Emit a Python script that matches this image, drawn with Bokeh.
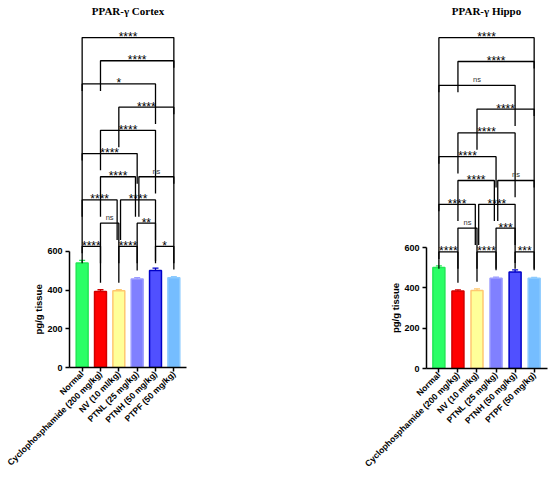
import math
import numpy as np
from bokeh.plotting import figure
from bokeh.layouts import row
from bokeh.models import FixedTicker, Range1d, Title
from bokeh.core.properties import value
from bokeh.embed import file_html
from bokeh.resources import INLINE

# ---------------- data ----------------
categories = ["Normal", "Cyclophosphamide (200 mg/kg)", "NV (10 ml/kg)",
              "PTNL (25 mg/kg)", "PTNH (50 mg/kg)", "PTPF (50 mg/kg)"]
cortex_values = [540, 393, 397, 457, 502, 464]
cortex_errors = [14, 9, 5, 8, 12, 6]
hippo_values = [501, 385, 387, 448, 479, 448]
hippo_errors = [8, 5, 8, 5, 10, 4]

pair_a = [0, 2, 4, 1, 3, 0, 2, 1, 3, 0, 1, 2, 0, 1, 0]
pair_b = [1, 3, 5, 2, 4, 2, 4, 3, 5, 3, 4, 5, 4, 5, 5]
bracket_rows = [1, 1, 1, 2, 2, 3, 3, 4, 4, 5, 6, 7, 8, 9, 10]
cortex_sig = ["****", "****", "*", "ns", "**", "****", "****", "****", "ns",
              "****", "****", "****", "*", "****", "****"]
hippo_sig = ["****", "****", "***", "ns", "***", "****", "****", "****", "ns",
             "****", "****", "****", "ns", "****", "****"]
y_ticks = [0, 200, 400, 600]
y_label = "pg/g tissue"

fill_colors = ["#2BFF66", "#FF0000", "#FFFF99", "#8080FF", "#5050FF", "#75BDFF"]
line_colors = ["#22E855", "#D00000", "#FFC870", "#9A9AFF", "#0000C8", "#8CCBFF"]

LABEL_HALF = {"*": 2.5, "**": 5, "***": 7.5, "****": 10, "ns": 3.7}
YLABEL_LEN_PX = 50  # approximate rendered length of the y-axis title


def make_panel(title, values, errors, sigs, frame_w, frame_h, b_left, b_right,
               x_start, x_end, upp, row_px, bar_w, xlab_size):
    y_end = frame_h * upp
    ppu = frame_w / (x_end - x_start)

    p = figure(frame_width=frame_w, frame_height=frame_h,
               x_range=Range1d(x_start, x_end), y_range=Range1d(0, y_end),
               output_backend="svg", toolbar_location=None,
               min_border_left=b_left, min_border_right=b_right,
               min_border_top=0, min_border_bottom=90)
    p.xgrid.visible = False
    p.ygrid.visible = False
    p.outline_line_color = None

    xs = np.arange(len(categories), dtype=float)
    vals = np.array(values, dtype=float)
    errs = np.array(errors, dtype=float)

    # bars
    p.vbar(x=xs, top=vals, width=bar_w, bottom=0, fill_color=fill_colors,
           line_color=line_colors, line_width=1.5)
    # error bars (upper only)
    cap = 3.0 / ppu
    p.segment(x0=xs, y0=vals, x1=xs, y1=vals + errs, line_color=line_colors,
              line_width=1.3)
    p.segment(x0=xs - cap, y0=vals + errs, x1=xs + cap, y1=vals + errs,
              line_color=line_colors, line_width=1.3)

    # brackets
    n = len(pair_a)
    d = 1.7 / ppu
    left_off = [0.0] * n
    right_off = [0.0] * n
    for i in range(n):
        for j in range(n):
            if i != j and bracket_rows[i] == bracket_rows[j] and pair_b[i] == pair_a[j]:
                right_off[i] = -d
                left_off[j] = d
    row1 = float(np.max(vals + errs)) + 14 * upp
    ys_row = [row1 + (r - 1) * row_px * upp for r in bracket_rows]
    xl = [pair_a[i] + left_off[i] for i in range(n)]
    xr = [pair_b[i] + right_off[i] for i in range(n)]
    xc = [(xl[i] + xr[i]) / 2 for i in range(n)]

    def leg_bottom(i, col, x):
        best = None
        for k in range(n):
            if bracket_rows[k] < bracket_rows[i] and pair_a[k] <= col <= pair_b[k]:
                if best is None or bracket_rows[k] > bracket_rows[best]:
                    best = k
        if best is None:
            return vals[col] + errs[col] + 7 * upp
        near = abs(x - xc[best]) * ppu < LABEL_HALF[sigs[best]] + 8
        return ys_row[best] - (16.8 if near else 7) * upp

    mx, my = [], []
    for i in range(n):
        bl = leg_bottom(i, pair_a[i], xl[i])
        br = leg_bottom(i, pair_b[i], xr[i])
        mx.append([xl[i], xl[i], xr[i], xr[i]])
        my.append([bl, ys_row[i], ys_row[i], br])
    p.multi_line(xs=mx, ys=my, line_color="black", line_width=1.3)

    star_idx = [i for i in range(n) if sigs[i] != "ns"]
    ns_idx = [i for i in range(n) if sigs[i] == "ns"]
    p.text(x=[xc[i] for i in star_idx], y=[ys_row[i] + 0.5 * upp for i in star_idx],
           text=[sigs[i] for i in star_idx], text_align="center",
           text_baseline="alphabetic", text_font=value("Liberation Sans"),
           text_font_size=value("12px"), text_color="black")
    p.text(x=[xc[i] for i in ns_idx], y=[ys_row[i] + 5.5 * upp for i in ns_idx],
           text=[sigs[i] for i in ns_idx], text_align="center",
           text_baseline="alphabetic", text_font=value("Liberation Sans"),
           text_font_size=value("7.5px"), text_color="#333333")

    # title
    p.text(x=[(len(categories) - 1) / 2], y=[y_end - 10 * upp], text=[title],
           text_align="center", text_baseline="middle",
           text_font=value("Liberation Serif"), text_font_style="bold",
           text_font_size=value("11px"), text_color="black")

    # y axis title, centred on the drawn part of the axis
    mid_px = (y_ticks[0] + y_ticks[-1]) / 2 / upp
    p.add_layout(Title(text=y_label, align="left", offset=mid_px - YLABEL_LEN_PX / 2,
                       text_font="Liberation Sans", text_font_style="bold",
                       text_font_size="9.5px", text_color="black", standoff=2),
                 "left")

    # axes
    p.xaxis.ticker = FixedTicker(ticks=list(range(len(categories))))
    p.xaxis.major_label_overrides = {i: c for i, c in enumerate(categories)}
    p.xaxis.major_label_orientation = math.pi / 4
    p.xaxis.major_label_text_font = "Liberation Sans"
    p.xaxis.major_label_text_font_style = "bold"
    p.xaxis.major_label_text_font_size = xlab_size
    p.xaxis.major_label_text_color = "black"
    p.xaxis.major_label_standoff = 1
    p.xaxis.major_tick_in = 0
    p.xaxis.major_tick_out = 4
    p.xaxis.minor_tick_line_color = None
    p.xaxis.axis_line_width = 1.5
    p.xaxis.major_tick_line_width = 1.5

    p.yaxis.ticker = FixedTicker(ticks=y_ticks)
    p.yaxis.bounds = (y_ticks[0], y_ticks[-1])
    p.yaxis.major_label_text_font = "Liberation Sans"
    p.yaxis.major_label_text_font_style = "bold"
    p.yaxis.major_label_text_font_size = "9px"
    p.yaxis.major_label_text_color = "black"
    p.yaxis.major_label_standoff = 3
    p.yaxis.major_tick_in = 0
    p.yaxis.major_tick_out = 4
    p.yaxis.minor_tick_line_color = None
    p.yaxis.axis_line_width = 1.5
    p.yaxis.major_tick_line_width = 1.5
    return p


p1 = make_panel("PPAR-\u03b3 Cortex", cortex_values, cortex_errors, cortex_sig,
                frame_w=117, frame_h=367, b_left=69, b_right=94,
                x_start=-0.69, x_end=5.69, upp=5.17, row_px=23.2, bar_w=0.65,
                xlab_size="8.6px")
p2 = make_panel("PPAR-\u03b3 Hippo", hippo_values, hippo_errors, hippo_sig,
                frame_w=121, frame_h=368, b_left=146, b_right=3,
                x_start=-0.65, x_end=5.70, upp=4.96, row_px=23.8, bar_w=0.63,
                xlab_size="8.6px")

layout = row(p1, p2)
open("out.html", "w").write(file_html(layout, INLINE))
